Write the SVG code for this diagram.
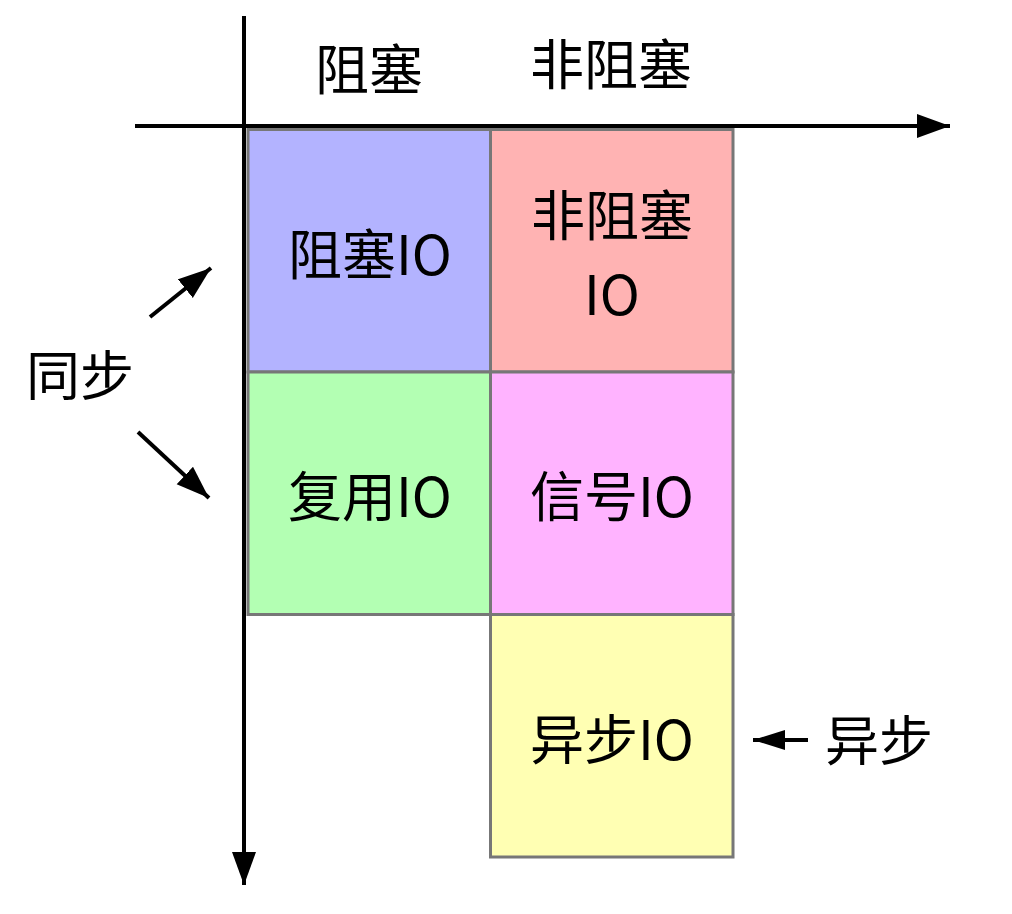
<svg xmlns="http://www.w3.org/2000/svg" width="1012" height="914" viewBox="0 0 1012 914">
<style>
.cell{stroke:#777777;stroke-width:3}
.t{font-family:"Noto Sans CJK SC","Noto Sans",sans-serif;font-size:54px;fill:#000;text-anchor:middle;dominant-baseline:central}
.ax{stroke:#000;stroke-width:4;fill:none}
</style>
<defs>
<marker id="ah" markerUnits="userSpaceOnUse" markerWidth="36" markerHeight="26" refX="33" refY="12" orient="auto">
<path d="M0,0 L33,12 L0,24 Z" fill="#000"/>
</marker>
<marker id="ah2" markerUnits="userSpaceOnUse" markerWidth="36" markerHeight="22" refX="32" refY="10" orient="auto">
<path d="M0,0 L32,10 L0,20 Z" fill="#000"/>
</marker>
</defs>
<rect width="1012" height="914" fill="#fff"/>
<g id="cell-blocking"><rect class="cell" x="248" y="129.5" width="242.5" height="242.5" fill="#b3b3ff"/><text class="t" x="370" y="251">阻塞IO</text></g>
<g id="cell-nonblocking"><rect class="cell" x="490.5" y="129.5" width="242.5" height="242.5" fill="#ffb3b3"/><text class="t" x="612" y="212">非阻塞<tspan x="612" dy="79">IO</tspan></text></g>
<g id="cell-multiplex"><rect class="cell" x="248" y="372" width="242.5" height="242.5" fill="#b3ffb3"/><text class="t" x="370" y="493">复用IO</text></g>
<g id="cell-signal"><rect class="cell" x="490.5" y="372" width="242.5" height="242.5" fill="#ffb3ff"/><text class="t" x="612" y="493">信号IO</text></g>
<g id="cell-async"><rect class="cell" x="490.5" y="614.5" width="242.5" height="242.5" fill="#ffffb3"/><text class="t" x="612" y="736">异步IO</text></g>
<g id="label-blocking"><text class="t" x="369" y="66">阻塞</text></g>
<g id="label-nonblocking"><text class="t" x="611" y="61">非阻塞</text></g>
<g id="label-sync"><text class="t" x="80" y="372">同步</text></g>
<g id="label-async"><text class="t" x="879" y="737">异步</text></g>
<g id="connectors">
<line class="ax" x1="135" y1="126" x2="950" y2="126" marker-end="url(#ah)"/>
<line class="ax" x1="244" y1="16" x2="244" y2="885" marker-end="url(#ah)"/>
<line class="ax" x1="150" y1="317" x2="211" y2="268" marker-end="url(#ah)"/>
<line class="ax" x1="138" y1="432" x2="209" y2="498" marker-end="url(#ah)"/>
<line class="ax" x1="808" y1="740" x2="753" y2="740" marker-end="url(#ah2)"/>
</g>
</svg>
